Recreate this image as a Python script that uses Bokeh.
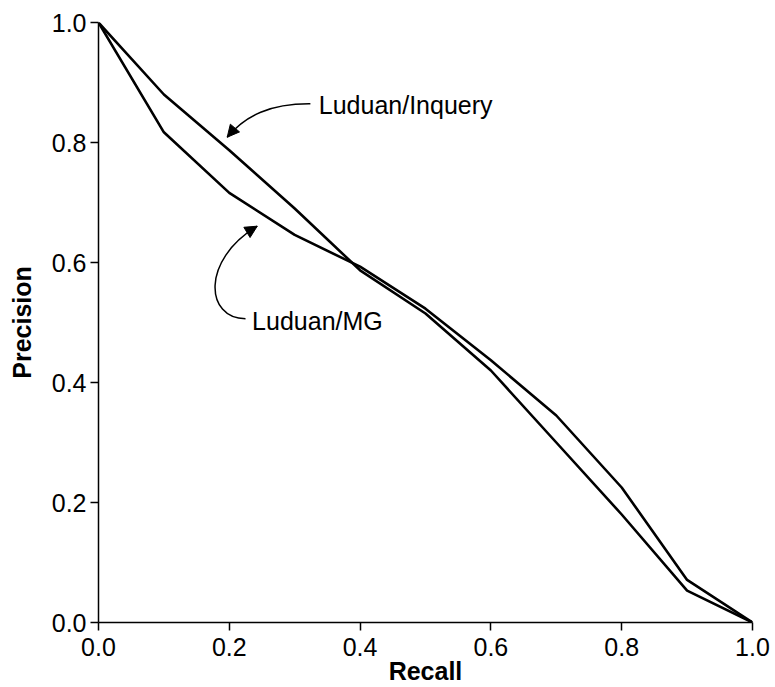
from bokeh.plotting import figure
from bokeh.models import Label, Arrow, NormalHead, FixedTicker, Range1d, PrintfTickFormatter
from bokeh.embed import file_html
from bokeh.resources import INLINE

# ---- data ----
recall = [0.0, 0.1, 0.2, 0.3, 0.4, 0.5, 0.6, 0.7, 0.8, 0.9, 1.0]
luduan_inquery = [1.0, 0.880, 0.787, 0.690, 0.587, 0.515, 0.420, 0.300, 0.180, 0.053, 0.0]
luduan_mg = [1.0, 0.817, 0.716, 0.646, 0.593, 0.523, 0.437, 0.345, 0.225, 0.071, 0.0]
tick_values = [0.0, 0.2, 0.4, 0.6, 0.8, 1.0]
x_label = "Recall"
y_label = "Precision"
name_inquery = "Luduan/Inquery"
name_mg = "Luduan/MG"

FONT = "Liberation Sans"
FS = "25px"

p = figure(width=775, height=687, output_backend="svg", toolbar_location=None,
           x_range=Range1d(0, 1), y_range=Range1d(0, 1),
           min_border_left=98, min_border_top=22, min_border_bottom=65, min_border_right=23,
           title=None)
p.outline_line_color = None
p.grid.visible = False
p.background_fill_color = "white"
p.border_fill_color = "white"

for ax in (p.xaxis[0], p.yaxis[0]):
    ax.ticker = FixedTicker(ticks=tick_values)
    ax.formatter = PrintfTickFormatter(format="%.1f")
    ax.axis_line_color = "black"
    ax.axis_line_width = 1.5
    ax.major_tick_line_color = "black"
    ax.major_tick_line_width = 1.5
    ax.major_tick_in = 0
    ax.major_tick_out = 8
    ax.minor_tick_line_color = None
    ax.major_label_text_font = FONT
    ax.major_label_text_font_size = FS
    ax.major_label_text_color = "black"
    ax.axis_label_text_font = FONT
    ax.axis_label_text_font_size = FS
    ax.axis_label_text_font_style = "bold"
    ax.axis_label_text_color = "black"

p.xaxis[0].axis_label = x_label
p.yaxis[0].axis_label = y_label
p.xaxis[0].major_label_standoff = 7
p.xaxis[0].axis_label_standoff = -2
p.yaxis[0].major_label_standoff = 4
p.yaxis[0].axis_label_standoff = 13

# curves
p.line(recall, luduan_inquery, line_color="black", line_width=2.6)
p.line(recall, luduan_mg, line_color="black", line_width=2.6)

# annotations
inq_arrow = dict(x0=0.324, y0=0.8645, cx0=0.263, cy0=0.865, cx1=0.2248, cy1=0.845, x1=0.1968, y1=0.8088)
mg_arrow = dict(x0=0.2248, y0=0.5062, cx0=0.1636, cy0=0.5067, cx1=0.1560, cy1=0.6033, x1=0.2427, y1=0.6605)

for a in (inq_arrow, mg_arrow):
    p.bezier(x0=[a["x0"]], y0=[a["y0"]], x1=[a["x1"]], y1=[a["y1"]],
             cx0=[a["cx0"]], cy0=[a["cy0"]], cx1=[a["cx1"]], cy1=[a["cy1"]],
             line_color="black", line_width=1.5)
    dx = a["x1"] - a["cx1"]
    dy = a["y1"] - a["cy1"]
    p.add_layout(Arrow(end=NormalHead(size=12, fill_color="black", line_color="black", line_width=1),
                       x_start=a["x1"] - dx * 0.05, y_start=a["y1"] - dy * 0.05,
                       x_end=a["x1"], y_end=a["y1"], line_alpha=0))

p.add_layout(Label(x=0.3368, y=0.8628, text=name_inquery, text_align="left",
                   text_baseline="alphabetic", text_font=FONT,
                   text_font_size=FS, text_color="black"))
p.add_layout(Label(x=0.2349, y=0.5017, text=name_mg, text_align="left",
                   text_baseline="alphabetic", text_font=FONT,
                   text_font_size=FS, text_color="black"))

open("out.html", "w").write(file_html(p, INLINE))
